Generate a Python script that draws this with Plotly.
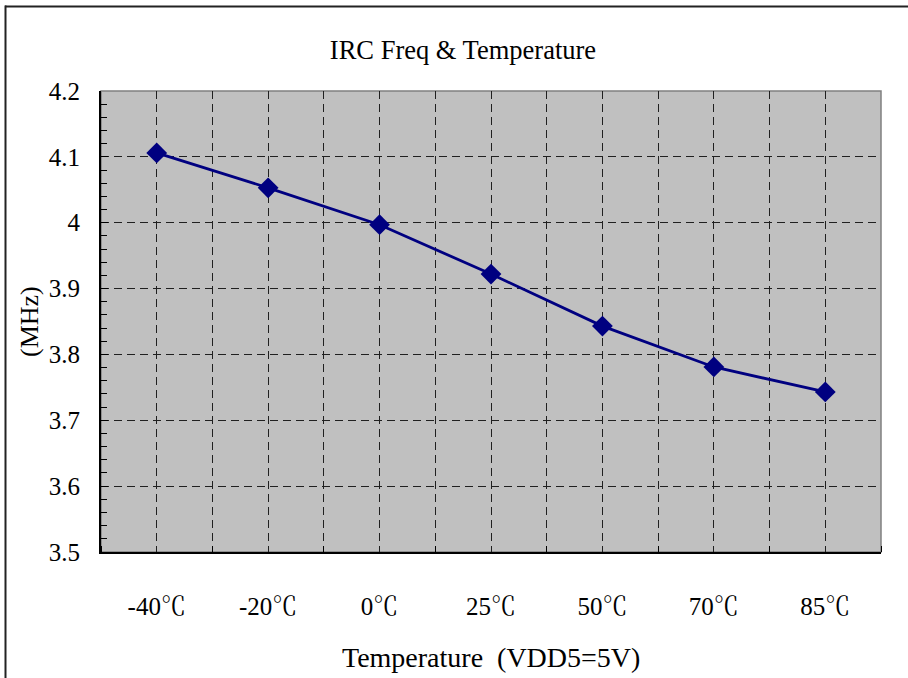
import plotly.graph_objects as go

categories = ["-40℃", "-20℃", "0℃", "25℃", "50℃", "70℃", "85℃"]
freq_mhz = [4.106, 4.053, 3.997, 3.922, 3.843, 3.781, 3.743]
y_ticks = [3.5, 3.6, 3.7, 3.8, 3.9, 4.0, 4.1, 4.2]
y_ticktext = ["3.5", "3.6", "3.7", "3.8", "3.9", "4", "4.1", "4.2"]

title_text = "IRC Freq & Temperature"
x_title = "Temperature \u00a0(VDD5=5V)"
y_title = "(MHz)"

FONT = "Liberation Serif, Times New Roman, Noto Serif CJK SC, Noto Sans CJK SC, serif"

xpos = list(range(len(categories)))
boundaries = [i - 0.5 for i in range(len(categories) + 1)]

fig = go.Figure()
fig.add_trace(go.Scatter(
    x=xpos, y=freq_mhz, mode="lines+markers",
    line=dict(color="#000080", width=2.8),
    marker=dict(symbol="diamond", size=16, color="#000080"),
    showlegend=False, hoverinfo="skip",
))

W, H = 908, 678
L, R, T, B = 101, 27, 91, 126
pw, ph = W - L - R, H - T - B

def px_to_paper_x(px):
    return (px - L) / pw

def px_to_paper_y(py):
    return (H - B - py) / ph

fig.update_layout(
    width=W, height=H,
    margin=dict(l=L, r=R, t=T, b=B, pad=0),
    paper_bgcolor="white",
    plot_bgcolor="#C0C0C0",
    font=dict(family=FONT, size=24, color="black"),
    title=dict(text=title_text, x=px_to_paper_x(463), xref="paper",
               y=(H - 50) / H, yref="container", xanchor="center", yanchor="middle",
               font=dict(size=26.5, family=FONT)),
    xaxis=dict(
        range=[-0.5, len(categories) - 0.5],
        tickmode="array", tickvals=xpos, ticktext=categories,
        ticks="", showgrid=True, gridcolor="#202020", griddash="8px,5px", gridwidth=1,
        showline=True, linecolor="black", linewidth=2,
        zeroline=False, ticklabelstandoff=31,
        tickfont=dict(size=25),
        minor=dict(tickmode="array", tickvals=boundaries, ticks="inside", ticklen=6,
                   tickcolor="black", tickwidth=1, showgrid=True,
                   gridcolor="#202020", griddash="8px,5px", gridwidth=1),
    ),
    yaxis=dict(
        range=[3.5, 4.2],
        tickmode="array", tickvals=y_ticks, ticktext=y_ticktext,
        ticks="inside", ticklen=7, tickcolor="black", tickwidth=1,
        showgrid=True, gridcolor="#202020", griddash="8px,5px", gridwidth=1,
        showline=True, linecolor="black", linewidth=2,
        zeroline=False, ticklabelstandoff=14,
        tickfont=dict(size=25),
        minor=dict(dtick=0.02, tick0=3.5, ticks="inside", ticklen=6,
                   tickcolor="black", tickwidth=1, showgrid=False),
    ),
    shapes=[
        dict(type="rect", xref="paper", yref="paper", x0=0, x1=1, y0=0, y1=1,
             line=dict(color="#808080", width=1.5), layer="below"),
        dict(type="line", xref="paper", yref="paper",
             x0=px_to_paper_x(5), x1=px_to_paper_x(908),
             y0=px_to_paper_y(6.5), y1=px_to_paper_y(6.5),
             line=dict(color="#222222", width=2), layer="above"),
        dict(type="line", xref="paper", yref="paper",
             x0=px_to_paper_x(5.5), x1=px_to_paper_x(5.5),
             y0=px_to_paper_y(5.5), y1=px_to_paper_y(678),
             line=dict(color="#222222", width=2), layer="above"),
    ],
    annotations=[
        dict(text=x_title, xref="paper", yref="paper", x=0.5, y=px_to_paper_y(657),
             xanchor="center", yanchor="middle", showarrow=False,
             font=dict(size=28, family=FONT)),
        dict(text=y_title, xref="paper", yref="paper", x=px_to_paper_x(29),
             y=px_to_paper_y(322), xanchor="center", yanchor="middle",
             textangle=-90, showarrow=False, font=dict(size=26, family=FONT)),
    ],
)

fig.write_html(
    "out.html",
    config={"displayModeBar": False},
    post_script="document.body.style.margin='0';document.body.style.overflow='hidden';",
)
